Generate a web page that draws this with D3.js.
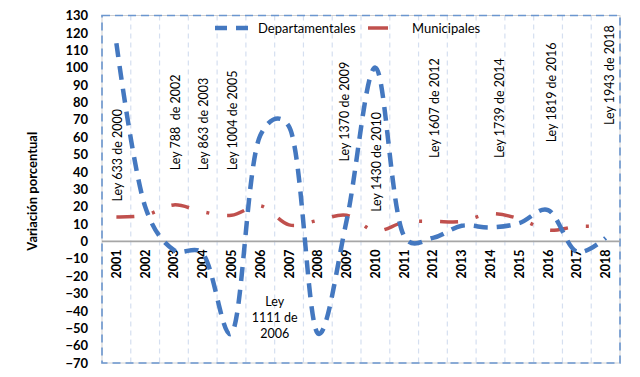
<!DOCTYPE html>
<html>
<head>
<meta charset="utf-8">
<script src="https://cdn.jsdelivr.net/npm/d3@7"></script>
<style>
  body { margin: 0; background: #fff; }
  svg { font-family: Lato, "Open Sans", sans-serif; }
</style>
</head>
<body>
<script>
// data
const years = ["2001","2002","2003","2004","2005","2006","2007","2008","2009",
               "2010","2011","2012","2013","2014","2015","2016","2017","2018"];
const departamentales = [114, 20, -5, -7, -53, 61, 66, -53, 12, 100, 3, 2, 9, 8, 10.5, 18, -6, 2];
const municipales = [14, 15, 21, 17, 15, 20.5, 9.5, 12, 15, 6, 11, 11.5, 11.5, 16, 13, 6.5, 8.5, 8.5];
const yTicks = d3.range(-70, 131, 10);

// law annotations: year column, shift inside column, value where the text starts
const leyes = [
  { year: "2001", shift: 0.05, at: 23, label: "Ley 633 de 2000" },
  { year: "2003", shift: 0.04, at: 41, label: "Ley 788  de 2002" },
  { year: "2004", shift: 0.04, at: 41, label: "Ley 863 de 2003" },
  { year: "2005", shift: 0.05, at: 41, label: "Ley 1004 de 2005" },
  { year: "2009", shift: -0.06, at: 46, label: "Ley 1370 de 2009" },
  { year: "2010", shift: 0.05, at: 17, label: "Ley 1430 de 2010" },
  { year: "2012", shift: 0.07, at: 48, label: "Ley 1607 de 2012" },
  { year: "2014", shift: 0.33, at: 48, label: "Ley 1739 de 2014" },
  { year: "2016", shift: 0.13, at: 57, label: "Ley 1819 de 2016" },
  { year: "2018", shift: 0.15, at: 67, label: "Ley 1943 de 2018" }
];
const ley1111 = { year: "2006", shift: 0.5, at: -44, lines: ["Ley", "1111 de", "2006"] };

const width = 640, height = 377;
const margin = { top: 15.5, right: 20, bottom: 14, left: 102 };

const svg = d3.select("body").append("svg")
  .attr("width", width)
  .attr("height", height);

const x = d3.scaleBand()
  .domain(years)
  .range([margin.left, width - margin.right]);

const y = d3.scaleLinear()
  .domain([-70, 130])
  .range([height - margin.bottom, margin.top]);

const cx = (yr, shift) => x(yr) + x.bandwidth() * (0.5 + (shift || 0));

// vertical dashed gridlines at the category boundaries
svg.append("g")
  .selectAll("line")
  .data(years.slice(1))
  .join("line")
    .attr("x1", d => x(d)).attr("x2", d => x(d))
    .attr("y1", y(130)).attr("y2", y(-70))
    .attr("stroke", "#d5dff0")
    .attr("stroke-width", 1.2)
    .attr("stroke-dasharray", "5,4");

// plot area border: light grey under blue dashes
svg.append("rect")
  .attr("x", x.range()[0]).attr("y", y(130))
  .attr("width", x.range()[1] - x.range()[0])
  .attr("height", y(-70) - y(130))
  .attr("fill", "none")
  .attr("stroke", "#d0d0d0");
svg.append("rect")
  .attr("x", x.range()[0]).attr("y", y(130))
  .attr("width", x.range()[1] - x.range()[0])
  .attr("height", y(-70) - y(130))
  .attr("fill", "none")
  .attr("stroke", "#6b96cf")
  .attr("stroke-width", 1.6)
  .attr("stroke-dasharray", "8,5");

// zero line
svg.append("line")
  .attr("x1", x.range()[0]).attr("x2", x.range()[1])
  .attr("y1", y(0)).attr("y2", y(0))
  .attr("stroke", "#a6a6a6")
  .attr("stroke-width", 1.6);

// y axis labels
const yAxis = svg.append("g")
  .attr("transform", `translate(${margin.left - 14},0)`)
  .call(d3.axisLeft(y).tickValues(yTicks).tickSize(0).tickPadding(0));
yAxis.select(".domain").remove();
yAxis.selectAll("text")
  .attr("font-family", "Lato, sans-serif")
  .attr("font-size", 13)
  .attr("font-weight", "bold")
  .attr("fill", "#000");

// x labels, rotated, hanging under the zero line
const xAxis = svg.append("g")
  .attr("transform", `translate(0,${y(0)})`)
  .call(d3.axisBottom(x).tickSize(0));
xAxis.select(".domain").remove();
xAxis.selectAll("text")
  .attr("font-family", "Lato, sans-serif")
  .attr("font-size", 12.5)
  .attr("font-weight", "bold")
  .attr("fill", "#000")
  .attr("text-anchor", "end")
  .attr("dominant-baseline", "central")
  .attr("transform", "translate(0,8) rotate(-90)")
  .attr("x", 0).attr("y", 0).attr("dy", null);

// y axis title
svg.append("text")
  .attr("transform", `translate(32,${(y(130) + y(-70)) / 2 + 2}) rotate(-90)`)
  .attr("text-anchor", "middle")
  .attr("dominant-baseline", "central")
  .attr("font-size", 13)
  .attr("font-weight", "bold")
  .text("Variación porcentual");

// law annotations
svg.append("g")
  .selectAll("text")
  .data(leyes)
  .join("text")
    .attr("transform", d => `translate(${cx(d.year, d.shift)},${y(d.at)}) rotate(-90)`)
    .attr("dominant-baseline", "central")
    .attr("font-size", 12.5)
    .attr("fill", "#000")
    .attr("style", "white-space:pre")
    .text(d => d.label);

svg.append("g")
  .selectAll("text")
  .data(ley1111.lines)
  .join("text")
    .attr("x", cx(ley1111.year, ley1111.shift))
    .attr("y", (d, i) => y(ley1111.at) + (i - 1) * 16)
    .attr("text-anchor", "middle")
    .attr("dominant-baseline", "central")
    .attr("font-size", 12.5)
    .text(d => d);

// series
const line = d3.line()
  .x((d, i) => cx(years[i]))
  .y(d => y(d))
  .curve(d3.curveCatmullRom.alpha(0.25));

svg.append("path")
  .datum(municipales)
  .attr("d", line)
  .attr("fill", "none")
  .attr("stroke", "#c0504d")
  .attr("stroke-width", 3.5)
  .attr("stroke-dasharray", "18,18,3,18");

svg.append("path")
  .datum(departamentales)
  .attr("d", line)
  .attr("fill", "none")
  .attr("stroke", "#4478c0")
  .attr("stroke-width", 4.5)
  .attr("stroke-dasharray", "14,9");

// legend
const legend = svg.append("g").attr("transform", "translate(0,28)");
legend.append("line")
  .attr("x1", 215).attr("x2", 250)
  .attr("stroke", "#4478c0").attr("stroke-width", 4.5)
  .attr("stroke-dasharray", "12,9");
legend.append("text")
  .attr("x", 258).attr("dominant-baseline", "central")
  .attr("font-size", 13)
  .text("Departamentales");
legend.append("line")
  .attr("x1", 368).attr("x2", 388)
  .attr("stroke", "#c0504d").attr("stroke-width", 3.5);
legend.append("text")
  .attr("x", 412).attr("dominant-baseline", "central")
  .attr("font-size", 13)
  .text("Municipales");
</script>
</body>
</html>
